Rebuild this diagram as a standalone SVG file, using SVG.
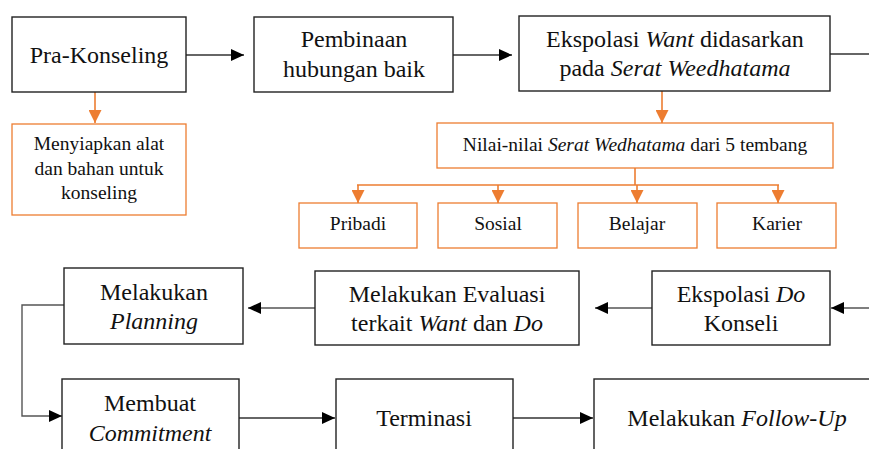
<svg xmlns="http://www.w3.org/2000/svg" width="869" height="449" viewBox="0 0 869 449">
<style>
.big{font-family:'Liberation Serif',serif;font-size:24px;fill:#111;text-anchor:middle}
.sm{font-family:'Liberation Serif',serif;font-size:19.5px;fill:#111;text-anchor:middle}
.it{font-style:italic}
.bx{fill:#fff;stroke:#222;stroke-width:1.4}
.ob{fill:#fff;stroke:#ED7D31;stroke-width:1.3}
.bl{fill:none;stroke:#333;stroke-width:1.4}
.gl{fill:none;stroke:#555;stroke-width:1.4}
.ol{fill:none;stroke:#ED7D31;stroke-width:1.6}
</style>
<defs>
<marker id="ab" markerUnits="userSpaceOnUse" markerWidth="13" markerHeight="12" refX="13" refY="6" orient="auto"><path d="M0,0 L13,6 L0,12 z" fill="#000"/></marker>
<marker id="ao" markerUnits="userSpaceOnUse" markerWidth="13" markerHeight="13" refX="13" refY="6.5" orient="auto"><path d="M0,0 L13,6.5 L0,13 z" fill="#ED7D31"/></marker>
</defs>
<rect width="869" height="449" fill="#fff"/>
<g id="connectors">
<line class="bl" x1="186" y1="55" x2="244" y2="55" marker-end="url(#ab)"/>
<line class="bl" x1="453" y1="55" x2="512" y2="55" marker-end="url(#ab)"/>
<line class="bl" x1="830" y1="54" x2="869" y2="54"/>
<line class="ol" x1="95" y1="92" x2="95" y2="123" marker-end="url(#ao)"/>
<line class="ol" x1="662" y1="91" x2="662" y2="123" marker-end="url(#ao)"/>
<polyline class="ol" points="635,168 635,185"/>
<line class="ol" x1="357" y1="185" x2="779" y2="185"/>
<line class="ol" x1="358" y1="185" x2="358" y2="203" marker-end="url(#ao)"/>
<line class="ol" x1="498" y1="185" x2="498" y2="203" marker-end="url(#ao)"/>
<line class="ol" x1="637" y1="185" x2="637" y2="203" marker-end="url(#ao)"/>
<line class="ol" x1="778" y1="185" x2="778" y2="203" marker-end="url(#ao)"/>
<line class="gl" x1="869" y1="308" x2="831" y2="308" marker-end="url(#ab)"/>
<line class="gl" x1="652" y1="308" x2="595" y2="308" marker-end="url(#ab)"/>
<line class="gl" x1="315" y1="308" x2="248" y2="308" marker-end="url(#ab)"/>
<polyline class="gl" points="64,305 22,305 22,416 62,416" marker-end="url(#ab)"/>
<line class="bl" x1="239" y1="418" x2="335" y2="418" marker-end="url(#ab)"/>
<line class="bl" x1="513" y1="418" x2="593" y2="418" marker-end="url(#ab)"/>
</g>
<g id="pra"><rect class="bx" x="12" y="17" width="174" height="75"/><text class="big" x="99" y="63">Pra-Konseling</text></g>
<g id="pembinaan"><rect class="bx" x="254" y="17" width="199" height="75"/><text class="big" x="354" y="47">Pembinaan</text><text class="big" x="354" y="77">hubungan baik</text></g>
<g id="want"><rect class="bx" x="519" y="16" width="311" height="75"/><text class="big" x="675" y="47">Ekspolasi <tspan class="it">Want</tspan> didasarkan</text><text class="big" x="675" y="76">pada <tspan class="it">Serat Weedhatama</tspan></text></g>
<g id="menyiapkan"><rect class="ob" x="12" y="124" width="174" height="91"/><text class="sm" x="99" y="150">Menyiapkan alat</text><text class="sm" x="99" y="175">dan bahan untuk</text><text class="sm" x="99" y="199">konseling</text></g>
<g id="nilai"><rect class="ob" x="437" y="123" width="396" height="45"/><text class="sm" x="635" y="151">Nilai-nilai <tspan class="it">Serat Wedhatama</tspan> dari 5 tembang</text></g>
<g id="pribadi"><rect class="ob" x="299" y="203" width="118" height="45"/><text class="sm" x="358" y="230">Pribadi</text></g>
<g id="sosial"><rect class="ob" x="438" y="203" width="119" height="45"/><text class="sm" x="498" y="230">Sosial</text></g>
<g id="belajar"><rect class="ob" x="578" y="203" width="119" height="45"/><text class="sm" x="637" y="230">Belajar</text></g>
<g id="karier"><rect class="ob" x="717" y="203" width="119" height="45"/><text class="sm" x="777" y="230">Karier</text></g>
<g id="planning"><rect class="bx" x="64" y="268" width="179" height="76"/><text class="big" x="154" y="300">Melakukan</text><text class="big it" x="154" y="329">Planning</text></g>
<g id="evaluasi"><rect class="bx" x="315" y="271" width="264" height="74"/><text class="big" x="447" y="302">Melakukan Evaluasi</text><text class="big" x="447" y="331">terkait <tspan class="it">Want</tspan> dan <tspan class="it">Do</tspan></text></g>
<g id="do"><rect class="bx" x="652" y="271" width="178" height="74"/><text class="big" x="741" y="302">Ekspolasi <tspan class="it">Do</tspan></text><text class="big" x="741" y="331">Konseli</text></g>
<g id="commitment"><rect class="bx" x="62" y="379" width="177" height="90"/><text class="big" x="150" y="411">Membuat</text><text class="big it" x="150" y="441">Commitment</text></g>
<g id="terminasi"><rect class="bx" x="336" y="379" width="177" height="90"/><text class="big" x="424" y="426">Terminasi</text></g>
<g id="followup"><rect class="bx" x="594" y="379" width="290" height="90"/><text class="big" x="737" y="426">Melakukan <tspan class="it">Follow-Up</tspan></text></g>
</svg>
